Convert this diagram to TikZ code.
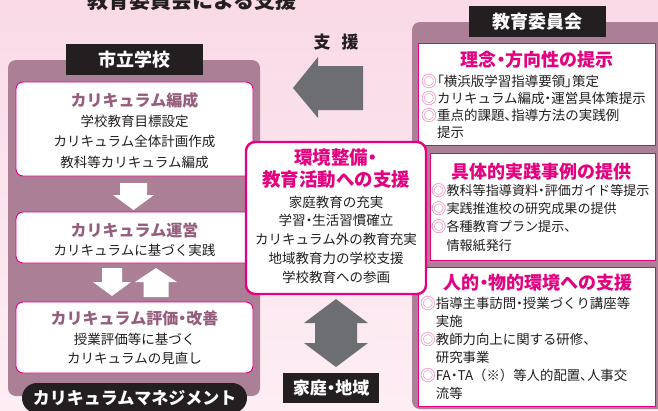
\documentclass[tikz,border=0pt]{standalone}
\usepackage{fontspec}
\setmainfont{Noto Sans CJK JP}
\definecolor{bgpink}{HTML}{F9DAE6}
\definecolor{bglight}{HTML}{FDEEF4}
\definecolor{panelmauve}{HTML}{AB7F95}
\definecolor{mag}{HTML}{E4007F}
\definecolor{titlemauve}{HTML}{965E7D}
\definecolor{arrowgray}{HTML}{6D6E71}
\definecolor{lblblack}{HTML}{231F20}
\definecolor{ringpink}{HTML}{EE6FAE}
\newcommand{\ring}{{\color{ringpink}\raisebox{-0.09em}{\scalebox{1.17}{◎}}}}
\newcommand{\ringgap}{\hphantom{\scalebox{1.17}{◎}}}
\newcommand{\nk}{{\addfontfeature{RawFeature=+palt}・}}
\newcommand{\pl}[1]{{\addfontfeature{RawFeature=+palt}#1}}
\begin{document}
\begin{tikzpicture}[x=1pt,y=-1pt,
  panel/.style={fill=panelmauve, rounded corners=8pt},
  lbox/.style={draw=mag, line width=0.9pt, fill=white, rounded corners=7pt, inner sep=0pt},
  cbox/.style={draw=mag, line width=2.4pt, fill=white, rounded corners=9pt, inner sep=0pt},
  rbox/.style={draw=mag, line width=1.4pt, fill=white, inner sep=0pt},
  blacklabel/.style={fill=lblblack, text=white, font=\fontsize{18}{20}\selectfont\bfseries, inner sep=0pt},
  ltitle/.style={text=titlemauve, font=\fontsize{16}{20}\selectfont\bfseries, inner sep=0pt},
  mtitle/.style={text=mag, font=\fontsize{18}{20}\selectfont\bfseries, inner sep=0pt},
  bodytext/.style={text=lblblack, inner sep=0pt, align=center},
  rbody/.style={text=lblblack, inner sep=0pt, align=left, anchor=west},
  whitearrow/.style={fill=white},
  grayarrow/.style={fill=arrowgray},
]
\useasboundingbox (0,0) rectangle (658,410);
\clip (0,0) rectangle (658,410);
\shade[top color=bgpink, bottom color=bglight] (0,0) rectangle (658,410);

% main title (cut at top, as in the reference)
\node[font=\fontsize{21}{24}\selectfont\bfseries, text=lblblack, inner sep=0pt] (maintitle) at (192,1) {教育委員会による支援};

% panels
\fill[panel] (8,60) rectangle (260,396);
\fill[panel] (412,22) rectangle (690,409);

% left boxes
\node[lbox, minimum width=237pt, minimum height=94pt] (lb1) at (134.5,129) {};
\node[lbox, minimum width=237pt, minimum height=51pt] (lb2) at (134.5,237.5) {};
\node[lbox, minimum width=237pt, minimum height=71pt] (lb3) at (134.5,337.5) {};

\node[ltitle] (lt1) at (134.5,100) {カリキュラム編成};
\node[bodytext, font=\fontsize{13.5}{20.5}\selectfont] (lbody1) at (134.5,141.5) {学校教育目標設定\\カリキュラム全体計画作成\\教科等カリキュラム編成};
\node[ltitle] (lt2) at (134.5,230) {カリキュラム運営};
\node[bodytext, font=\fontsize{13.5}{19}\selectfont] (lbody2) at (134.5,250) {カリキュラムに基づく実践};
\node[ltitle] (lt3) at (134.5,318) {カリキュラム評価\nk 改善};
\node[bodytext, font=\fontsize{13.5}{18.5}\selectfont] (lbody3) at (134.5,349) {授業評価等に基づく\\カリキュラムの見直し};

% white arrows
\fill[whitearrow] (120,183) -- (147,183) -- (147,195) -- (154,195) -- (133.5,210) -- (113,195) -- (120,195) -- cycle;
\fill[whitearrow] (102,268) -- (122,268) -- (122,282) -- (131,282) -- (112,296) -- (93,282) -- (102,282) -- cycle;
\fill[whitearrow] (156,268) -- (177,282) -- (168.5,282) -- (168.5,297) -- (143.5,297) -- (143.5,282) -- (135,282) -- cycle;

% right boxes
\node[rbox, minimum width=237pt, minimum height=102pt] (rb1) at (537,94.5) {};
\node[rbox, minimum width=225pt, minimum height=107pt] (rb2) at (543,207) {};
\node[rbox, minimum width=237pt, minimum height=139pt] (rb3) at (537,337) {};

\node[mtitle] (rt1) at (537,60) {理念\nk 方向性の提示};
\node[rbody, font=\fontsize{13.5}{17}\selectfont] (rbody1) at (421,106.5) {\ring\pl{「}横浜版学習指導要領\pl{」}策定\\\ring カリキュラム編成\nk 運営具体策提示\\\ring 重点的課題\pl{、}指導方法の実践例\\\ringgap 提示};
\node[mtitle] (rt2) at (541,172) {具体的実践事例の提供};
\node[rbody, font=\fontsize{13.1}{18.3}\selectfont] (rbody2) at (431,217.5) {\ring 教科等指導資料\nk 評価ガイド等提示\\\ring 実践推進校の研究成果の提供\\\ring 各種教育プラン提示、\\\ringgap 情報紙発行};
\node[mtitle] (rt3) at (538,283) {人的\nk 物的環境への支援};
\node[rbody, font=\fontsize{13.4}{18}\selectfont] (rbody3) at (420,348) {\ring 指導主事訪問\nk 授業づくり講座等\\\ringgap 実施\\\ring 教師力向上に関する研修、\\\ringgap 研究事業\\\ring FA\nk TA（※）等人的配置\pl{、}人事交\\\ringgap 流等};

% center box
\node[cbox, minimum width=180pt, minimum height=152pt] (cb) at (336,218) {};
\node[text=mag, font=\fontsize{18.5}{22}\selectfont\bfseries, inner sep=0pt, align=center] (ctitle) at (336,169) {環境整備\nk\\教育活動への支援};
\node[bodytext, font=\fontsize{13.5}{18.75}\selectfont] (cbody) at (336,239.5) {家庭教育の充実\\学習\nk 生活習慣確立\\カリキュラム外の教育充実\\地域教育力の学校支援\\学校教育への参画};

% gray arrows
\fill[grayarrow] (293,88) -- (318,57) -- (318,66) -- (363,66) -- (363,110) -- (318,110) -- (318,118) -- cycle;
\fill[grayarrow] (336,299) -- (368,323) -- (357,323) -- (357,343) -- (368,343) -- (336,367) -- (304,343) -- (315,343) -- (315,323) -- (304,323) -- cycle;
\node[font=\fontsize{17}{20}\selectfont\bfseries, text=lblblack, inner sep=0pt] (shien) at (336,42) {支\hspace{11pt}援};

% black labels
\node[blacklabel, minimum width=137pt, minimum height=31pt] (shiritsu) at (134.5,59.5) {市立学校};
\node[blacklabel, minimum width=137pt, minimum height=31pt] (kyoiku) at (537.5,21.5) {教育委員会};
\node[blacklabel, minimum width=96pt, minimum height=30pt, font=\fontsize{17}{20}\selectfont\bfseries] (katei) at (331,388) {家庭\nk 地域};
\node[blacklabel, rounded corners=15pt, minimum width=225pt, minimum height=30pt, font=\fontsize{17}{22}\selectfont\bfseries] (cm) at (134.5,398) {カリキュラムマネジメント};
\end{tikzpicture}
\end{document}
